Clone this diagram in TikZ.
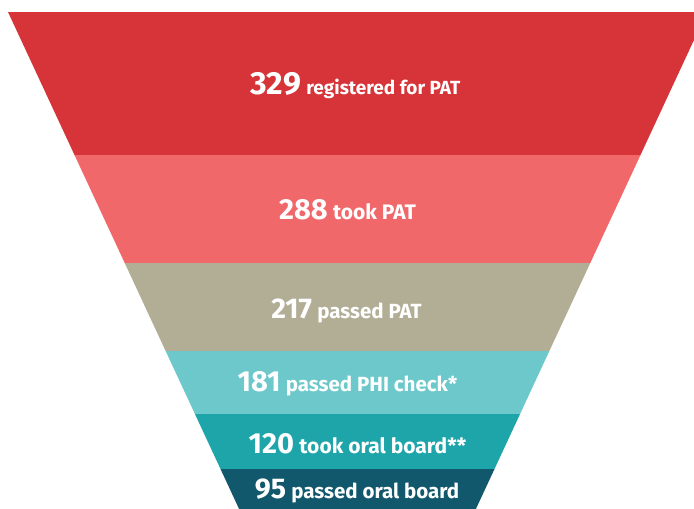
\documentclass[tikz,border=0pt]{standalone}
\usepackage{fontspec}
\newfontfamily\funnelfont{Fira Sans}
\usetikzlibrary{positioning}
\definecolor{bandred}{RGB}{214,52,56}
\definecolor{bandpink}{RGB}{241,104,107}
\definecolor{bandtan}{RGB}{178,174,150}
\definecolor{bandaqua}{RGB}{108,200,202}
\definecolor{bandteal}{RGB}{30,165,170}
\definecolor{banddark}{RGB}{18,88,108}
\tikzstyle{stage}=[text=white, font=\funnelfont\bfseries, anchor=base, inner sep=0pt]
\newcommand{\bignum}[2]{{\fontsize{#1}{#1}\selectfont #2}\hspace{3pt}}
\newcommand{\lbl}[2]{{\fontsize{#1}{#1}\selectfont #2}}

\begin{document}
\begin{tikzpicture}[x=1pt, y=-1pt]
    \useasboundingbox (0,0) rectangle (694,509);
    \clip (0,0) rectangle (694,509);
    \foreach \ya/\yb/\col in {12/155/bandred, 155/263/bandpink, 263/351/bandtan, 351/414/bandaqua, 414/469/bandteal, 469/520/banddark}
        \fill[\col] ({8+0.465*(\ya-12)},\ya) -- ({707-0.465*(\ya-12)},\ya) -- ({707-0.465*(\yb-12)},\yb) -- ({8+0.465*(\yb-12)},\yb) -- cycle;
    \node[stage] (registered) at (355.5,94) {\bignum{32}{329} \lbl{19}{registered for PAT}};
    \node[stage] (took) at (347.5,219) {\bignum{29}{288} \lbl{21}{took PAT}};
    \node[stage] (passed) at (346.5,318) {\bignum{28.5}{217} \lbl{20.5}{passed PAT}};
    \node[stage] (phi) at (347.5,391) {\bignum{29}{181} \lbl{20.5}{passed PHI check*}};
    \node[stage] (oral) at (357.5,453) {\bignum{29}{120} \lbl{21}{took oral board**}};
    \node[stage] (board) at (357,498) {\bignum{28.5}{95} \lbl{20.5}{passed oral board}};
\end{tikzpicture}
\end{document}
